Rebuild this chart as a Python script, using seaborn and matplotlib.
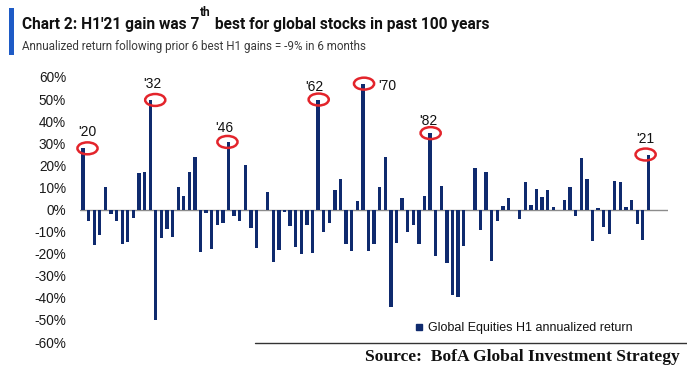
import matplotlib
matplotlib.use("Agg")
import matplotlib.pyplot as plt
import seaborn as sns
import pandas as pd
from matplotlib.patches import Ellipse, Rectangle
from matplotlib.lines import Line2D

# ---------------- data ----------------
years = list(range(1920, 2022))
returns = [
    27.7, -5.4, -15.9, -11.6, 10.4, -2.1, -5.3, -15.6, -14.6, -4.0,      # 1920s
    16.5, 17.1, 49.6, -50.1, -13.0, -8.8, -12.3, 10.4, 5.9, 17.2,        # 1930s
    23.7, -19.2, -1.7, -17.7, -6.8, -6.3, 30.6, -3.1, -5.1, 20.2,        # 1940s
    -8.5, -17.5, 0.0, 7.9, -23.7, -18.4, -1.0, -7.5, -17.2, -20.1,       # 1950s
    -7.2, -19.7, 49.8, -10.4, -6.2, 8.8, 13.9, -15.7, -18.8, 3.7,        # 1960s
    57.0, -19.0, -15.7, 10.0, 23.7, -44.0, -15.2, 5.4, -10.0, -7.0,      # 1970s
    -15.8, 6.0, 34.6, -21.0, 10.6, -24.3, -38.8, -39.6, -16.5, 0.0,      # 1980s
    18.8, -9.2, 16.8, -23.1, -5.2, 1.6, 5.1, 0.0, -4.1, 12.4,            # 1990s
    2.2, 9.5, 5.7, 9.0, 1.0, -0.3, 4.2, 10.0, -3.0, 23.2,                # 2000s
    13.6, -14.4, 0.9, -7.7, -11.0, 12.8, 12.6, 1.3, 4.3, -6.5,           # 2010s
    -13.7, 24.9,                                                         # 2020s
]
highlight_years = [1920, 1932, 1946, 1962, 1970, 1982, 2021]
highlight_labels = ["'20", "'32", "'46", "'62", "'70", "'82", "'21"]
y_ticks = list(range(-60, 61, 10))
y_tick_labels = [f"{t}%" for t in y_ticks]
legend_label = "Global Equities H1 annualized return"
title_a = "Chart 2: H1'21 gain was 7"
title_sup = "th"
title_b = " best for global stocks in past 100 years"
subtitle = "Annualized return following prior 6 best H1 gains = -9% in 6 months"
source = "Source:  BofA Global Investment Strategy"

# ---------------- style ----------------
sns.set_theme(style="white")
plt.rcParams['font.family'] = ['Liberation Sans', 'DejaVu Sans']
HEAD = ['Roboto', 'DejaVu Sans']
navy = "#0f2a6e"
red = "#e3242b"

W, H = 687, 368
fig = plt.figure(figsize=(W / 100, H / 100), dpi=100)
fig.patch.set_facecolor("white")
ax = fig.add_axes([80 / W, 1 - 342 / H, 588 / W, 265 / H])

df = pd.DataFrame({"year": [str(y) for y in years], "ret": returns})
sns.barplot(data=df, x="year", y="ret", order=df["year"], color=navy,
            saturation=1, width=0.6, linewidth=0, ax=ax, zorder=2)

ax.set_xlim(-0.54, 104.5)
ax.set_ylim(-60, 60)
ax.set_yticks(y_ticks)
ax.set_yticklabels(y_tick_labels)
ax.tick_params(axis='y', length=0, pad=10, labelsize=9.8, colors='#1a1a1a')
ax.set_xticks([])
ax.set_xlabel('')
ax.set_ylabel('')
for s in ax.spines.values():
    s.set_visible(False)
ax.axhline(0, color='#8c8c8c', lw=1.0, zorder=1)

# highlight circles and labels
ellipse_dx = [0.8, 0.9, -0.2, 0.1, 0.2, 0.1, -0.5]
label_offsets = [(3.4, 11.6), (1.5, 11.2), (-3.2, 10.2), (-2.7, 9.1),
                 (17.9, -2.0), (-1.2, 8.5), (-2.4, 11.4)]
for yr, lab, off, dx in zip(highlight_years, highlight_labels, label_offsets, ellipse_dx):
    i = years.index(yr)
    v = returns[i]
    ax.add_patch(Ellipse((i + dx, v), 3.6, 5.4, fill=False, ec=red, lw=1.8,
                         zorder=4, clip_on=False))
    ax.annotate(lab, (i, v), xytext=off, textcoords='offset points',
                ha='center', va='center', fontsize=10, color='#111111',
                annotation_clip=False)

# legend
handle = Line2D([], [], marker='s', color=navy, linestyle='None', markersize=5)
fig.legend([handle], [legend_label], loc='center left',
           bbox_to_anchor=(414 / W, 1 - 328 / H), frameon=False,
           borderpad=0, borderaxespad=0, handlelength=0.8, handletextpad=0.3,
           fontsize=9, labelcolor='#111111')

# title block
fig.add_artist(Rectangle((9 / W, 1 - 55 / H), 5 / W, 47 / H,
                         transform=fig.transFigure, color="#1e5bc6", lw=0))
t1 = fig.text(22 / W, 1 - 29 / H, title_a, ha='left', va='baseline',
              fontsize=11.2, weight='bold', family=HEAD, color='#111111')
fig.canvas.draw()
r = fig.canvas.get_renderer()
bb1 = t1.get_window_extent(r)
t2 = fig.text(bb1.x1 / W + 1 / W, 1 - 16 / H, title_sup, ha='left', va='baseline',
              fontsize=8.6, weight='bold', family=HEAD, color='#111111')
bb2 = t2.get_window_extent(r)
t3 = fig.text(bb2.x1 / W, 1 - 29 / H, title_b, ha='left', va='baseline',
              fontsize=11.2, weight='bold', family=HEAD, color='#111111')
fig.text(22 / W, 1 - 50 / H, subtitle, ha='left', va='baseline',
         fontsize=8.4, family=HEAD, weight='normal', color='#3a3a3a')

# source line and text
fig.add_artist(Line2D([255 / W, 1], [1 - 343 / H, 1 - 343 / H],
                      transform=fig.transFigure, color='#333333', lw=1))
fig.text(680 / W, 1 - 357 / H, source, ha='right', va='center',
         fontsize=12.6, weight='bold', family=['Liberation Serif', 'DejaVu Serif'],
         color='#111111')

fig.savefig("out.png", dpi=100, facecolor="white")
